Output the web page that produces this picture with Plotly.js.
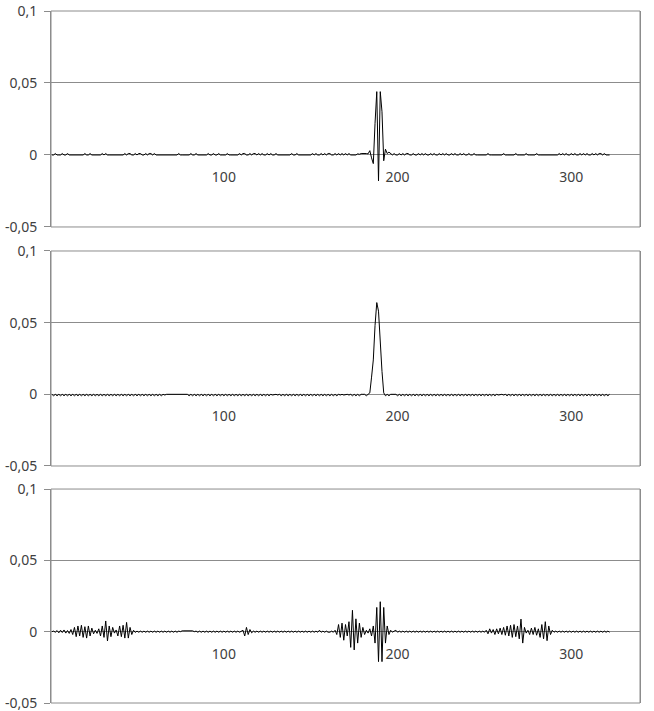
<!DOCTYPE html>
<html>
<head>
<meta charset="utf-8">
<script src="https://cdn.plot.ly/plotly-3.0.1.min.js"></script>
<style>html,body{margin:0;padding:0;background:#fff;}#chart{width:654px;height:711px;}</style>
</head>
<body>
<div id="chart"></div>
<script>
// x tick labels and y tick labels
const xTickVals = [100, 200, 300];
const xTickText = ['100', '200', '300'];
const yTickVals = [-0.05, 0, 0.05, 0.1];
const yTickText = ['-0,05', '0', '0,05', '0,1'];

// Series 1 (top panel), samples 1..322
const series1 = [
0,0,.001,0,0,0,.001,0,0,.001, 0,0,0,0,0,0,0,0,0,.001,
0,0,.001,0,0,0,0,0,0,.001, 0,.001,0,0,0,0,0,0,0,0,
0,0,.001,0,.001,.001,0,0,.001,0, .001,.001,0,0,.001,0,.001,.001,0,.001,
0,0,0,0,0,0,0,0,0,0, 0,0,0,.001,0,0,0,0,0,0,
.001,0,0,.001,0,0,0,0,0,0, .001,0,0,.001,0,0,.001,0,0,0,
0,.001,0,0,0,0,0,0,.001,0, .001,.001,0,0,.001,0,.001,.001,0,.001,
0,.001,0,0,.001,0,.001,0,0,.001, 0,0,0,0,0,0,0,0,.001,0,
0,.001,0,0,0,0,0,0,0,0, .001,0,.001,0,0,.001,0,.001,0,.001,
.001,0,0,.001,0,.001,0,.001,0,.001, 0,.001,0,0,.0005,0,.0008,.0005,.001,.001,
.0015,.001,.0008,.003,-.002,-.006,.022,.044,-.018,.044, .030,-.004,.004,.001,.002,.001,0,.001,0,0,
.001,0,.001,0,.001,.001,0,0,.001,0, 0,.001,0,.001,0,.001,0,0,.001,0,
.001,0,0,.001,0,.001,0,.001,0,0, .001,0,.001,0,0,.001,0,.001,0,0,
.001,0,0,.001,0,0,0,0,0,0, 0,.001,0,0,0,0,0,0,0,0,
.001,0,0,0,0,0,0,.001,0,0, 0,0,0,.001,0,0,0,0,0,.001,
0,0,0,0,0,0,0,0,0,0, 0,0,.001,0,.001,0,.001,0,0,.001,
0,.001,0,0,.001,0,.001,0,.001,0, 0,.001,0,.001,0,.001,.001,0,.001,0,
0,0
];

// Series 2 (middle panel)
const series2 = [
0,-.001,0,-.001,0,-.001,0,-.001,0,-.001, 0,-.001,0,-.001,0,-.001,0,-.001,0,-.001,
0,-.001,0,-.001,0,-.001,0,-.001,0,-.001, 0,-.001,0,-.001,0,-.001,0,-.001,0,-.001,
0,-.001,0,-.001,0,-.001,0,-.001,0,-.001, 0,-.001,0,-.001,0,-.001,0,-.001,0,-.001,
0,-.001,0,-.001,0,-.0005,0,0,-.0005,0, 0,-.0005,0,0,-.0005,0,0,-.0005,0,-.001,
0,-.001,0,-.001,0,-.001,0,-.001,0,-.001, 0,-.001,0,-.001,0,-.001,0,-.001,0,-.001,
0,-.001,0,-.001,0,-.001,0,-.001,0,-.001, 0,-.001,0,-.001,0,-.001,0,-.001,0,-.001,
0,-.001,0,-.001,0,-.001,0,-.0005,0,0, -.0005,0,-.001,0,-.001,0,-.001,0,-.001,0,
-.001,0,-.001,0,-.001,0,-.001,0,-.001,0, -.001,0,-.001,0,-.001,0,-.001,0,-.001,0,
-.001,0,-.001,0,-.001,0,-.0005,0,-.0005,0, 0,-.0005,0,-.001,0,-.001,0,-.001,0,0,
0,-.001,0,.001,.012,.024,.048,.064,.058,.034, .016,.001,-.001,0,-.001,0,0,-.0005,0,-.001,
0,-.001,0,-.001,0,-.001,0,-.001,0,-.001, 0,-.001,0,-.001,0,-.001,0,-.001,0,-.001,
0,-.001,0,-.001,0,-.001,0,-.001,0,-.001, 0,-.001,0,-.001,0,-.001,0,-.001,0,-.001,
0,-.001,0,-.001,0,-.001,0,-.001,0,-.001, 0,-.001,0,-.001,0,-.001,0,-.0005,0,0,
-.0005,0,-.001,0,-.001,0,-.001,0,-.001,0, -.001,0,-.001,0,-.001,0,-.001,0,-.001,0,
-.001,0,-.001,0,-.001,0,-.001,0,-.001,0, -.001,0,-.001,0,-.001,0,-.001,0,-.001,0,
-.001,0,-.001,0,-.001,0,-.001,0,-.001,0, -.001,0,-.001,0,-.001,0,-.001,0,-.001,0,
-.001,0
];

// Series 3 (bottom panel)
const series3 = [
0,.0004,-.0004,.0008,-.0008,.001,-.0006,.0012,-.001,.0008, -.0012,.0015,-.002,.003,-.0035,.004,-.003,.0045,-.004,.0035,
-.0045,.004,-.003,.0025,-.0015,.001,-.0012,.002,-.003,.004, -.004,.0075,-.0065,.004,-.0035,.003,-.001,.0012,-.003,.004,
-.0035,.0045,-.0045,.0065,-.0045,.003,-.002,.001,-.0005,.0004, -.0004,.0004,-.0004,.0004,-.0004,.0004,-.0004,.0004,-.0004,.0004,
-.0004,.0004,-.0004,.0004,-.0004,.0004,-.0004,.0004,-.0004,.0004, -.0004,.0004,-.0004,.0004,0,.0006,.0006,.0006,.0006,.0006,
.0006,.0006,0,.0004,-.0004,.0004,-.0004,.0004,-.0004,.0004, -.0004,.0004,-.0004,.0004,-.0004,.0004,-.0004,.0004,-.0004,.0004,
-.0004,.0004,-.0004,.0004,-.0004,.0004,-.0004,.0004,-.0004,.0004, .001,-.003,.003,-.002,.0015,-.0008,.0004,-.0004,.0004,-.0004,
.0004,-.0004,.0004,-.0004,.0004,-.0004,.0004,-.0004,.0004,-.0004, .0004,-.0004,.0004,-.0004,.0004,-.0004,.0004,-.0004,.0004,-.0004,
.0004,-.0004,.0004,-.0004,.0004,-.0004,.0004,-.0004,.0004,-.0004, .0004,-.0004,.0004,-.0004,.001,-.0004,.0004,-.0004,.0004,-.0004,
-.0004,.0004,-.0004,.001,-.002,.005,-.004,.006,-.006,.005, -.003,.007,-.011,.015,-.0128,.009,-.008,.006,-.004,.003,
-.002,.001,-.001,.002,-.003,.004,-.008,.017,-.021,.021, -.021,.017,-.008,.004,-.002,.001,-.0004,.0004,.001,-.0004,
.0004,-.0004,.0004,-.0004,.0004,-.0004,.0004,-.0004,.0004,-.0004, .0004,-.0004,.0004,-.0004,.0004,-.0004,.0004,-.0004,.0004,-.0004,
.0004,-.0004,.0004,-.0004,.0004,-.0004,.0004,-.0004,.0004,-.0004, .0004,-.0004,.0004,-.0004,.0004,-.0004,.0004,-.0004,.0004,-.0004,
.0004,-.0004,.0004,-.0004,.0004,-.0004,.0004,-.0004,.0004,-.0004, .001,-.0015,.002,-.001,.0015,-.002,.002,-.0015,.0025,-.002,
.003,-.0025,.004,-.003,.0045,-.004,.005,-.0035,.004,-.005, .0088,-.008,.003,-.001,.001,-.002,.0025,-.002,.003,-.0025,
.002,-.004,.005,-.005,.007,-.0063,.004,-.002,.001,-.0004, .0004,-.0004,.0004,-.0004,.0004,-.0004,.0004,-.0004,.0004,-.0004,
.0004,-.0004,.0004,-.0004,.0004,-.0004,.0004,-.0004,.0004,-.0004, .0004,-.0004,.0004,-.0004,.0004,-.0004,.0004,-.0004,.0004,-.0004,
.0004,-.0004
];

const seriesList = [series1, series2, series3];

// ---------- layout / styling ----------
const GRID = '#8c8c8c';
const TXT = '#404040';
const FONT = {family: 'Noto Sans, Open Sans, sans-serif', size: 14, color: TXT};
const margin = {l: 51, r: 14, t: 11, b: 8};
const domains = [[0.6879, 1], [0.3425, 0.6532], [0, 0.3092]];
const yRange = [-0.05, 0.1];

const traces = seriesList.map((s, i) => ({
  type: 'scatter', mode: 'lines',
  y: s, x0: 1, dx: 1,
  xaxis: i === 0 ? 'x' : 'x' + (i + 1),
  yaxis: i === 0 ? 'y' : 'y' + (i + 1),
  line: {color: '#000', width: 1},
  hoverinfo: 'skip', showlegend: false, cliponaxis: false
}));

const layout = {
  width: 654, height: 711, margin: margin,
  paper_bgcolor: '#fff', plot_bgcolor: '#fff',
  font: FONT, showlegend: false, shapes: []
};

domains.forEach((d, i) => {
  const sx = i === 0 ? '' : String(i + 1);
  const zeroFrac = d[0] + (d[1] - d[0]) * (0 - yRange[0]) / (yRange[1] - yRange[0]);
  layout['xaxis' + sx] = {
    domain: [0, 1], range: [0.5, 339.5], anchor: 'free', position: zeroFrac,
    tickvals: xTickVals, ticktext: xTickText, ticks: '',
    showgrid: false, zeroline: false, showline: false,
    ticklabelstandoff: 12, ticklabeloverflow: 'allow', tickfont: FONT, fixedrange: true
  };
  layout['yaxis' + sx] = {
    domain: d, range: yRange, anchor: 'x' + sx,
    tickvals: yTickVals, ticktext: yTickText,
    ticks: 'outside', ticklen: 6, tickcolor: GRID, tickwidth: 1,
    showgrid: true, gridcolor: GRID, gridwidth: 1, zeroline: false,
    showline: true, linecolor: GRID, linewidth: 1, mirror: true,
    ticklabelstandoff: 4, ticklabeloverflow: 'allow', tickfont: FONT, fixedrange: true
  };
  layout.shapes.push({
    type: 'rect', xref: 'x' + sx + ' domain', yref: 'y' + sx + ' domain',
    x0: 0, x1: 1, y0: 0, y1: 1, line: {color: GRID, width: 1}, layer: 'below'
  });
});

Plotly.newPlot('chart', traces, layout, {displayModeBar: false, staticPlot: true});
</script>
</body>
</html>
